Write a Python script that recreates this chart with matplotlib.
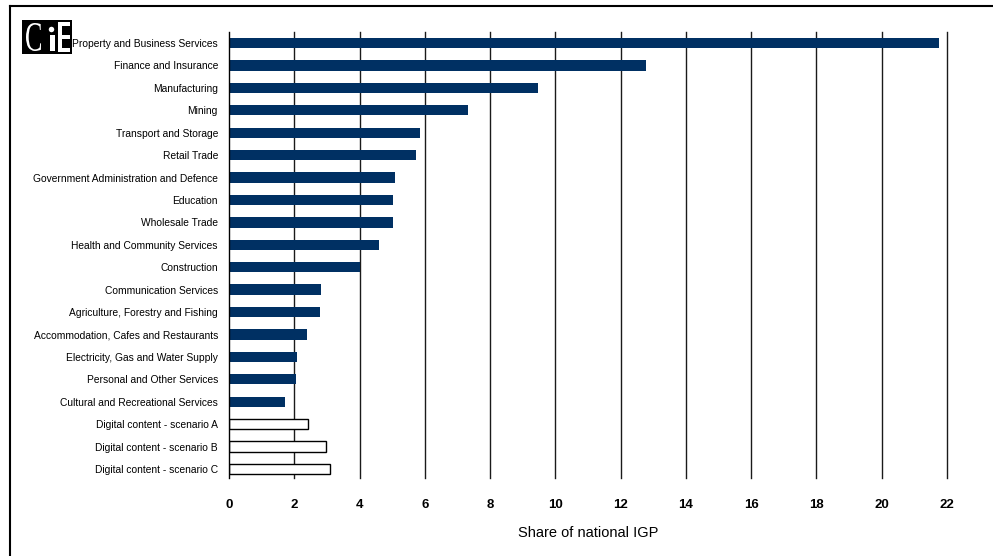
#!/usr/bin/env python3
import matplotlib
matplotlib.use("Agg")
import matplotlib.pyplot as plt
from matplotlib.lines import Line2D
from matplotlib.patches import Rectangle, PathPatch, Ellipse
from matplotlib.textpath import TextPath
from matplotlib.font_manager import FontProperties
from matplotlib.transforms import Affine2D, IdentityTransform

plt.rcParams["font.family"] = ["Liberation Sans", "DejaVu Sans"]

industries = [
    "Property and Business Services",
    "Finance and Insurance",
    "Manufacturing",
    "Mining",
    "Transport and Storage",
    "Retail Trade",
    "Government Administration and Defence",
    "Education",
    "Wholesale Trade",
    "Health and Community Services",
    "Construction",
    "Communication Services",
    "Agriculture, Forestry and Fishing",
    "Accommodation, Cafes and Restaurants",
    "Electricity, Gas and Water Supply",
    "Personal and Other Services",
    "Cultural and Recreational Services",
]
industry_share = [21.75, 12.78, 9.47, 7.32, 5.85, 5.73, 5.09, 5.02, 5.02,
                  4.60, 4.01, 2.82, 2.79, 2.39, 2.08, 2.05, 1.72]

scenarios = [
    "Digital content - scenario A",
    "Digital content - scenario B",
    "Digital content - scenario C",
]
scenario_share = [2.42, 2.97, 3.09]

x_ticks = list(range(0, 23, 2))

NAVY = "#003063"
W, H = 993, 556

fig = plt.figure(figsize=(W / 100, H / 100), dpi=100)
ax = fig.add_axes([229 / W, 1 - 478 / H, (947 - 229) / W, (478 - 32) / H])

n_ind = len(industries)
ind_pos = list(range(n_ind))
sc_pos = list(range(n_ind, n_ind + len(scenarios)))

ax.set_axisbelow(True)
for t in x_ticks[1:]:
    ax.axvline(t, color="#1a1a1a", lw=1.0, zorder=0, clip_on=False)

ax.barh(ind_pos, industry_share, height=0.46, color=NAVY, zorder=2)
ax.barh(sc_pos, scenario_share, height=0.46, color="white",
        edgecolor="black", linewidth=1.0, zorder=2)

ax.set_yticks(ind_pos + sc_pos)
ax.set_yticklabels(industries + scenarios, fontsize=7.4)
ax.tick_params(axis="y", length=0, pad=8)
ax.set_ylim(len(ind_pos + sc_pos) - 0.6, -0.49)

ax.set_xlim(0, 22)
ax.set_xticks(x_ticks)
ax.set_xticklabels([str(t) for t in x_ticks], fontsize=9.5, fontweight="bold")
ax.tick_params(axis="x", length=0, pad=15)
ax.set_xlabel("Share of national IGP", fontsize=10.5, labelpad=11)

for s in ["top", "right", "bottom"]:
    ax.spines[s].set_visible(False)
ax.spines["left"].set_color("black")
ax.spines["left"].set_linewidth(1.0)

# page border (top and left)
fig.add_artist(Line2D([10 / W, 1], [1 - 6 / H, 1 - 6 / H], color="black", lw=1.5,
                      transform=fig.transFigure))
fig.add_artist(Line2D([10 / W, 10 / W], [0, 1 - 6 / H], color="black", lw=1.5,
                      transform=fig.transFigure))


# CIE logo, drawn in image pixel coordinates (origin top-left)
def box(x1, y1, x2, y2, color):
    fig.add_artist(Rectangle((x1 / W, 1 - y2 / H), (x2 - x1) / W, (y2 - y1) / H,
                             transform=fig.transFigure, color=color, lw=0, zorder=5))


box(22, 20, 72, 54, "black")

# tall narrow serif "C" squeezed into its box
c_path = TextPath((0, 0), "C", size=1, prop=FontProperties(family="Liberation Serif"))
ext = c_path.get_extents()
cx1, cy1, cx2, cy2 = 26, 23, 41, 51
tr = (Affine2D()
      .translate(-ext.x0, -ext.y0)
      .scale((cx2 - cx1) / ext.width, (cy2 - cy1) / ext.height)
      .translate(cx1, H - cy2))
fig.add_artist(PathPatch(tr.transform_path(c_path), transform=IdentityTransform(),
                         color="white", lw=0, zorder=6))

# "i"
fig.add_artist(Ellipse((51.5 / W, 1 - 29.5 / H), 5.5 / W, 5.5 / H,
                       transform=fig.transFigure, color="white", lw=0, zorder=6))
box(50, 35, 55, 51, "white")

# "E"
box(58, 22, 62, 52, "white")
for y in (22, 35, 48):
    box(58, y, 70, y + 4, "white")

fig.savefig("out.png", dpi=100)
